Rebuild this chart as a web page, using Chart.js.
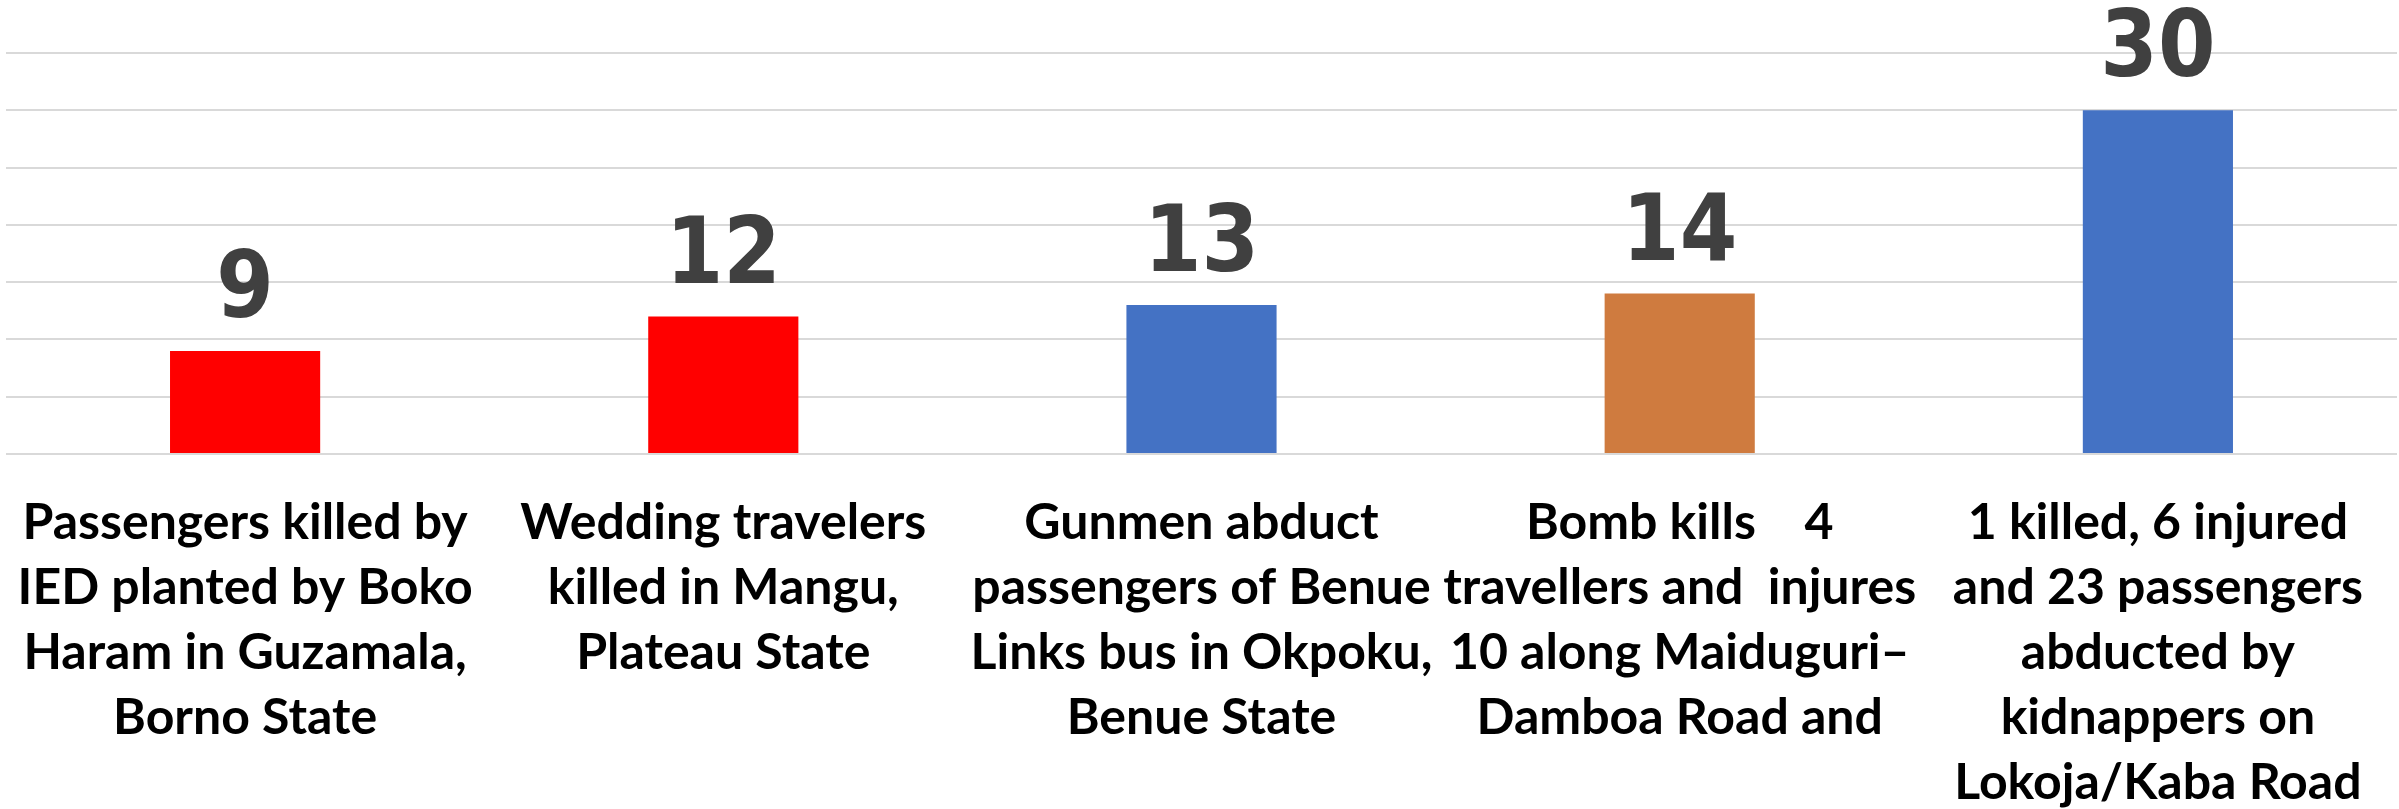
<!DOCTYPE html>
<html>
<head>
<meta charset="utf-8">
<script src="https://cdn.jsdelivr.net/npm/chart.js@4"></script>
<style>
  body { margin: 0; background: #fff; }
  #wrap { width: 2399px; height: 809px; }
</style>
</head>
<body>
<div id="wrap"><canvas id="chart"></canvas></div>
<script>
// Categories (multi-line, as in the picture)
const categories = [
    ['Passengers killed by', 'IED planted by Boko', 'Haram in Guzamala,', 'Borno State'],
    ['Wedding travelers', 'killed in Mangu,', 'Plateau State'],
    ['Gunmen abduct', 'passengers of Benue', 'Links bus in Okpoku,', 'Benue State'],
    ['Bomb kills    4', 'travellers and  injures', '10 along Maiduguri\u2013', 'Damboa Road and'],
    ['1 killed, 6 injured', 'and 23 passengers', 'abducted by', 'kidnappers on', 'Lokoja/Kaba Road']
];
const victims = [9, 12, 13, 14, 30];
const barColors = ['#FF0000', '#FF0000', '#4472C4', '#CF7B3F', '#4472C4'];
const yMin = 0;
const yMax = 35;
const yStep = 5;

// Draw the big value numbers above each bar
const valueLabels = {
    id: 'valueLabels',
    afterDatasetsDraw(chart) {
        const ctx = chart.ctx;
        const meta = chart.getDatasetMeta(0);
        ctx.save();
        ctx.fillStyle = '#404040';
        ctx.font = 'bold 92px "DejaVu Sans Condensed", "DejaVu Sans", sans-serif';
        ctx.textAlign = 'center';
        ctx.textBaseline = 'alphabetic';
        meta.data.forEach((bar, i) => {
            ctx.fillText(String(victims[i]), bar.x, bar.y - 34);
        });
        ctx.restore();
    }
};

const ctx = document.getElementById('chart').getContext('2d');
new Chart(ctx, {
    type: 'bar',
    data: {
        labels: categories,
        datasets: [{
            data: victims,
            backgroundColor: barColors,
            borderWidth: 0,
            categoryPercentage: 1,
            barPercentage: 0.314
        }]
    },
    options: {
        responsive: true,
        maintainAspectRatio: false,
        animation: false,
        layout: {
            padding: { top: 53, left: 6, right: 2, bottom: 0 }
        },
        plugins: {
            legend: { display: false },
            tooltip: { enabled: false }
        },
        scales: {
            x: {
                grid: { display: false },
                border: { display: false },
                // labels run to the bottom edge, like the original
                afterFit(scale) {
                    scale.paddingLeft = 0;
                    scale.paddingRight = 0;
                    scale.height = 355;
                },
                ticks: {
                    color: '#000000',
                    padding: 28,
                    maxRotation: 0,
                    autoSkip: false,
                    font: {
                        family: 'Lato, "DejaVu Sans Condensed", sans-serif',
                        weight: 'bold',
                        size: 50,
                        lineHeight: 1.3
                    }
                }
            },
            y: {
                min: yMin,
                max: yMax,
                border: { display: false },
                grid: {
                    color: '#D9D9D9',
                    lineWidth: 2,
                    drawTicks: false
                },
                ticks: {
                    display: false,
                    stepSize: yStep
                }
            }
        }
    },
    plugins: [valueLabels]
});
</script>
</body>
</html>
